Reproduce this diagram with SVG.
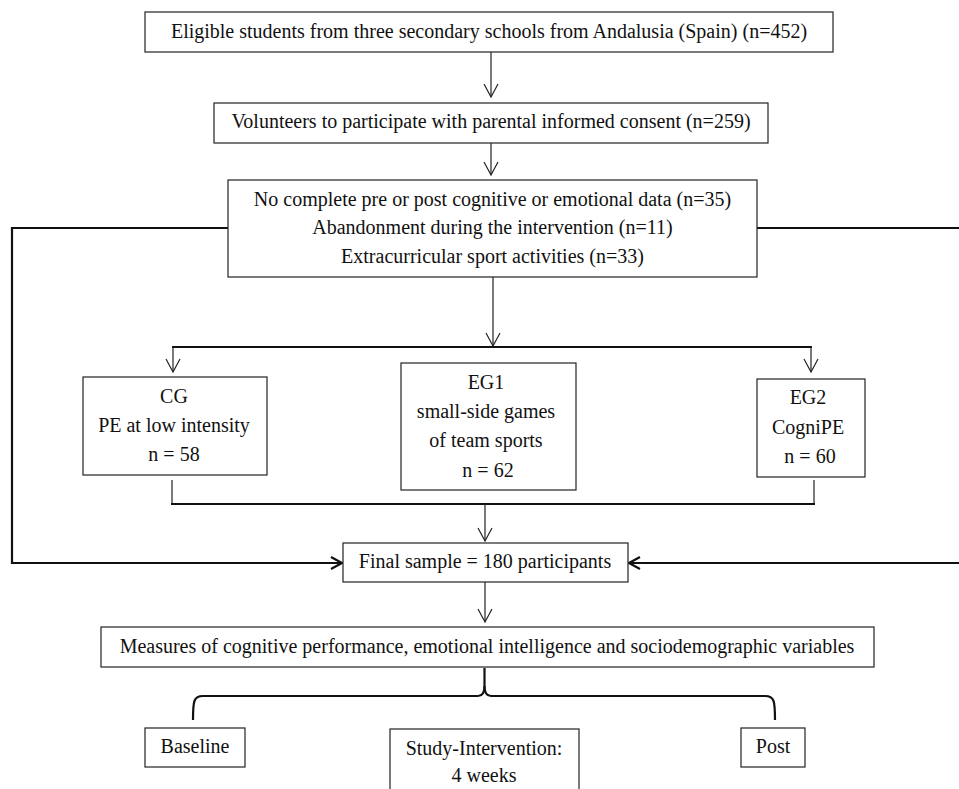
<svg xmlns="http://www.w3.org/2000/svg" width="959" height="789" viewBox="0 0 959 789">
<style>
.box{fill:#fff;stroke:#222;stroke-width:1.2}
.t{font-family:"Liberation Serif","Times New Roman",serif;font-size:20px;fill:#111;text-anchor:middle}
.thin{fill:none;stroke:#222;stroke-width:1.2}
.thick{fill:none;stroke:#111;stroke-width:2.2}
</style>
<defs>
<marker id="av" markerUnits="userSpaceOnUse" markerWidth="30" markerHeight="30" viewBox="-15 -15 30 30" refX="0" refY="0" orient="auto" overflow="visible">
<path d="M-13,-7 L0,0 L-13,7" fill="none" stroke="#222" stroke-width="1.2"/>
</marker>
<marker id="ah" markerUnits="userSpaceOnUse" markerWidth="30" markerHeight="30" viewBox="-15 -15 30 30" refX="0" refY="0" orient="auto" overflow="visible">
<path d="M-11,-6 L0,0 L-11,6" fill="none" stroke="#111" stroke-width="2.2"/>
</marker>
</defs>
<rect width="959" height="789" fill="#fff"/>

<g id="connectors">
<line class="thin" x1="491" y1="52" x2="491" y2="97" marker-end="url(#av)"/>
<line class="thin" x1="491" y1="143" x2="491" y2="175" marker-end="url(#av)"/>
<line class="thin" x1="493" y1="277" x2="493" y2="346" marker-end="url(#av)"/>
<line class="thick" x1="172" y1="347" x2="812" y2="347"/>
<line class="thin" x1="173" y1="347" x2="173" y2="372" marker-end="url(#av)"/>
<line class="thin" x1="811" y1="347" x2="811" y2="372" marker-end="url(#av)"/>
<path class="thick" d="M228,228 L12,228 L12,563 L342,563" marker-end="url(#ah)"/>
<path class="thick" d="M757,228 L962,228 L962,563 L629,563" marker-end="url(#ah)"/>
<line class="thin" x1="172" y1="480" x2="172" y2="504"/>
<line class="thin" x1="814" y1="480" x2="814" y2="504"/>
<line class="thick" x1="171" y1="504" x2="815" y2="504"/>
<line class="thin" x1="485" y1="504" x2="485" y2="541" marker-end="url(#av)"/>
<line class="thin" x1="485" y1="582" x2="485" y2="622" marker-end="url(#av)"/>
<path class="thick" d="M193,720 C193,700 194,696 203,696 L478,696 Q484.5,696 484.5,686 L484.5,668"/>
<path class="thick" d="M775,720 C775,700 774,696 765,696 L491,696 Q484.5,696 484.5,686"/>
</g>

<g id="n1">
<rect class="box" x="145" y="12" width="688" height="40"/>
<text class="t" x="489" y="38">Eligible students from three secondary schools from Andalusia (Spain) (n=452)</text>
</g>
<g id="n2">
<rect class="box" x="214" y="103" width="554" height="40"/>
<text class="t" x="491" y="128">Volunteers to participate with parental informed consent (n=259)</text>
</g>
<g id="n3">
<rect class="box" x="228" y="180" width="529" height="97"/>
<text class="t" x="492.5" y="206">No complete pre or post cognitive or emotional data (n=35)</text>
<text class="t" x="492.5" y="234">Abandonment during the intervention (n=11)</text>
<text class="t" x="492.5" y="263">Extracurricular sport activities (n=33)</text>
</g>
<g id="cg">
<rect class="box" x="83" y="377" width="184" height="98"/>
<text class="t" x="174" y="403">CG</text>
<text class="t" x="174" y="432">PE at low intensity</text>
<text class="t" x="174" y="461">n = 58</text>
</g>
<g id="eg1">
<rect class="box" x="401" y="363" width="175" height="127"/>
<text class="t" x="486" y="389">EG1</text>
<text class="t" x="486" y="418">small-side games</text>
<text class="t" x="486" y="447">of team sports</text>
<text class="t" x="488" y="477">n = 62</text>
</g>
<g id="eg2">
<rect class="box" x="757" y="379" width="108" height="98"/>
<text class="t" x="808" y="404">EG2</text>
<text class="t" x="808" y="434">CogniPE</text>
<text class="t" x="810" y="463">n = 60</text>
</g>
<g id="final">
<rect class="box" x="343" y="543" width="285" height="39"/>
<text class="t" x="485" y="568">Final sample = 180 participants</text>
</g>
<g id="measures">
<rect class="box" x="101" y="627" width="773" height="40"/>
<text class="t" x="487" y="653">Measures of cognitive performance, emotional intelligence and sociodemographic variables</text>
</g>
<g id="baseline">
<rect class="box" x="145" y="728" width="100" height="39"/>
<text class="t" x="195" y="753">Baseline</text>
</g>
<g id="study">
<rect class="box" x="390" y="729" width="189" height="70"/>
<text class="t" x="484" y="755">Study-Intervention:</text>
<text class="t" x="484" y="782">4 weeks</text>
</g>
<g id="post">
<rect class="box" x="741" y="728" width="64" height="39"/>
<text class="t" x="773" y="753">Post</text>
</g>
</svg>
